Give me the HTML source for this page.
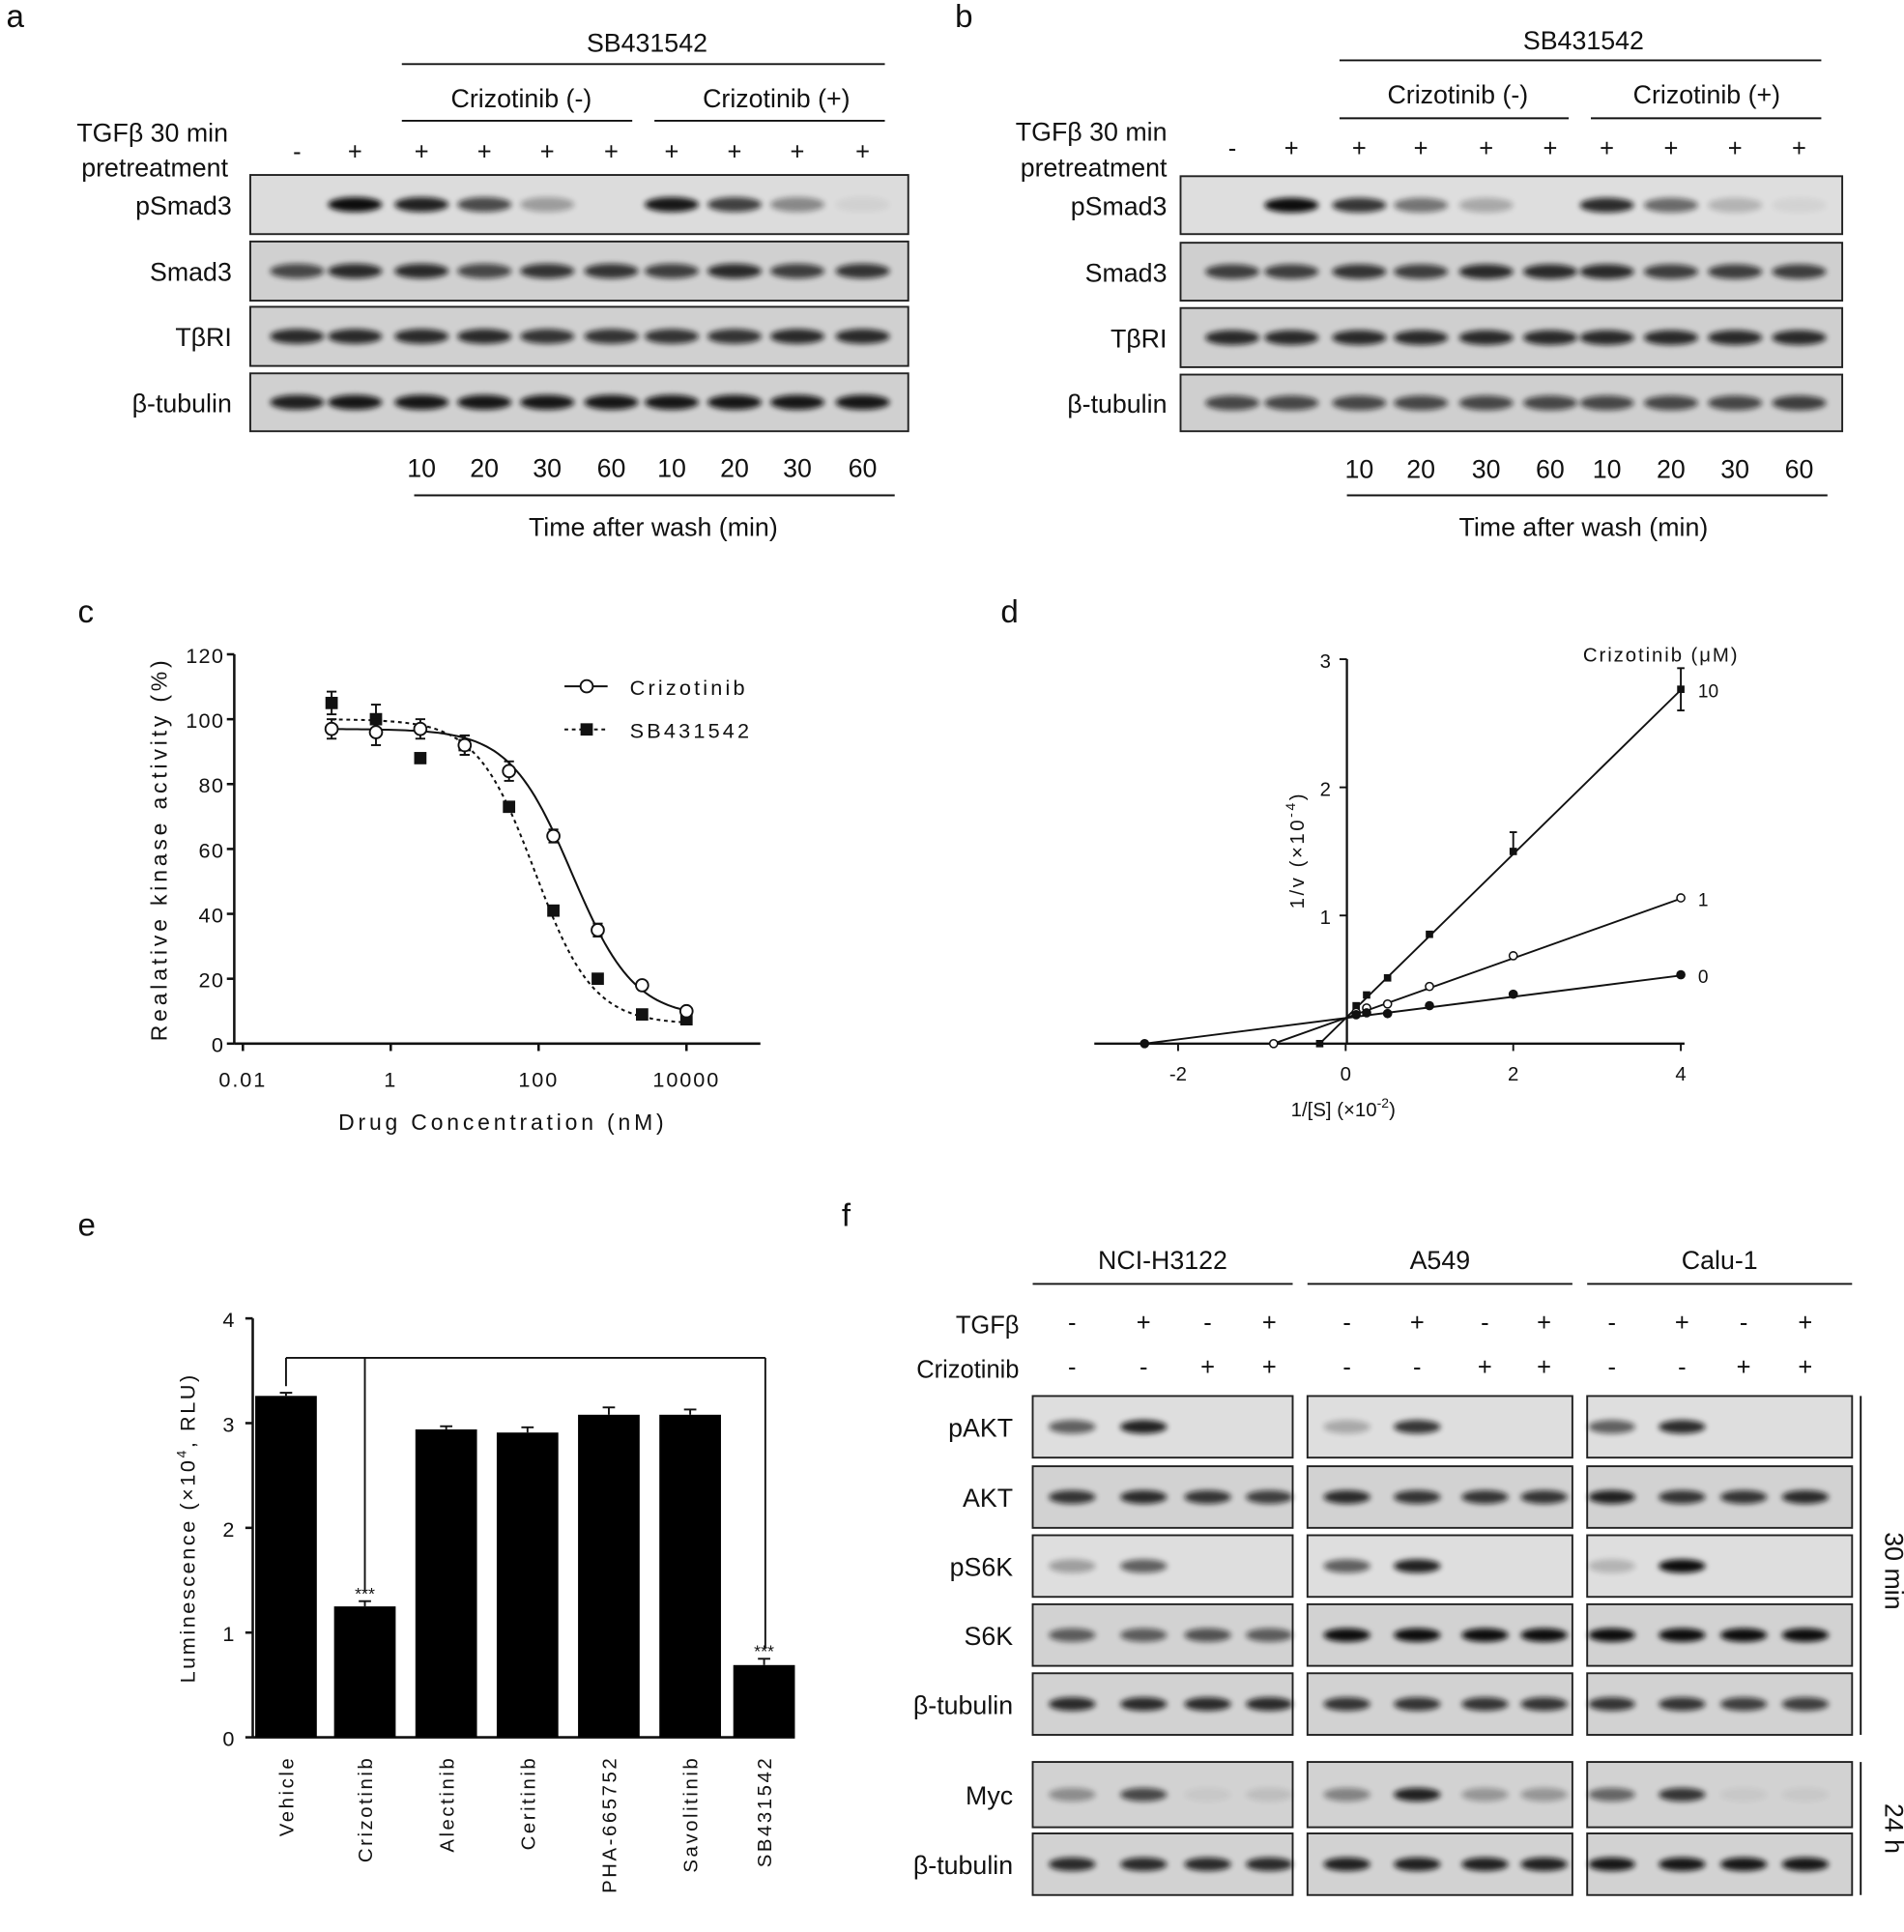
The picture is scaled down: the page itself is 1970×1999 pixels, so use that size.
<!DOCTYPE html>
<html><head><meta charset="utf-8"><style>
html,body{margin:0;padding:0;background:#fff}
svg{display:block}
text{font-family:"Liberation Sans",Arial,sans-serif;fill:#111}
</style></head><body>
<svg id="s" width="1970" height="1999" viewBox="0 0 1545 1568" xmlns="http://www.w3.org/2000/svg">
<defs>
<filter id="bl" x="-50%" y="-100%" width="200%" height="300%"><feGaussianBlur stdDeviation="2.2"/></filter>
</defs>
</svg>
<script>
const s=document.getElementById('s');let h='';
function T(x,y,t,sz,anc,extra){h+=`<text x="${x}" y="${y}" font-size="${sz}" text-anchor="${anc||'start'}" ${extra||''}>${t}</text>`;}
function L(x1,y1,x2,y2,w,extra){h+=`<line x1="${x1}" y1="${y1}" x2="${x2}" y2="${y2}" stroke="#111" stroke-width="${w||1.5}" ${extra||''}/>`;}
function box(x1,y1,x2,y2,bg){h+=`<rect x="${x1}" y="${y1}" width="${x2-x1}" height="${y2-y1}" fill="${bg||'#d6d6d6'}" stroke="#222" stroke-width="1.5"/>`;}
function bands(lanes,yc,ints,w,hh){lanes.forEach((x,i)=>{const a=ints[i];if(a>0.02)h+=`<ellipse cx="${x}" cy="${yc}" rx="${w||22}" ry="${(hh||6)}" fill="#111" opacity="${a}" filter="url(#bl)"/>`;});}
T(5,22,'a',26);T(775,22,'b',26);
// a
const la=[241,288,342,393,444,496,545,596,647,700];
T(525,42,'SB431542',21,'middle');L(326,52,718,52);
T(423,87,'Crizotinib (-)',21,'middle');L(326,98,513,98);
T(630,87,'Crizotinib (+)',21,'middle');L(531,98,718,98);
T(185,115,'TGFβ 30 min',21,'end');T(185,143,'pretreatment',21,'end');
la.forEach((x,i)=>T(x,130,i==0?'-':'+',20,'middle'));
const ra=[[142,190,'pSmad3',[0,1,.9,.7,.3,0,.95,.75,.4,.05]],[196,244,'Smad3',[.7,.85,.85,.7,.8,.8,.75,.85,.75,.8]],[249,297,'TβRI',[.85,.85,.85,.85,.8,.8,.8,.8,.85,.85]],[303,350,'β-tubulin',[.9,.95,.95,.95,.95,.95,.95,.95,.95,.95]]];
ra.forEach((r,k)=>{box(203,r[0],737,r[1],k==0?'#dcdcdc':'#d0d0d0');bands(la,(r[0]+r[1])/2,r[3]);T(188,(r[0]+r[1])/2+8,r[2],21,'end');});
[10,20,30,60,10,20,30,60].forEach((v,i)=>T(la[i+2],387,v,21,'middle'));
L(336,402,726,402);T(530,435,'Time after wash (min)',21,'middle');
// b
const lb=[1000,1048,1103,1153,1206,1258,1304,1356,1408,1460];
T(1285,40,'SB431542',21,'middle');L(1087,49,1478,49);
T(1183,84,'Crizotinib (-)',21,'middle');L(1087,96,1273,96);
T(1385,84,'Crizotinib (+)',21,'middle');L(1291,96,1478,96);
T(947,114,'TGFβ 30 min',21,'end');T(947,143,'pretreatment',21,'end');
lb.forEach((x,i)=>T(x,127,i==0?'-':'+',20,'middle'));
const rb=[[143,190,'pSmad3',[0,1,.8,.5,.25,0,.85,.55,.2,.05]],[197,244,'Smad3',[.75,.75,.8,.75,.85,.85,.85,.75,.75,.75]],[250,298,'TβRI',[.85,.85,.85,.85,.85,.85,.85,.85,.85,.85]],[304,350,'β-tubulin',[.7,.7,.7,.7,.7,.7,.7,.7,.7,.75]]];
rb.forEach((r,k)=>{box(958,r[0],1495,r[1],k==0?'#dedede':'#cfcfcf');bands(lb,(r[0]+r[1])/2,r[3]);T(947,(r[0]+r[1])/2+8,r[2],21,'end');});
[10,20,30,60,10,20,30,60].forEach((v,i)=>T(lb[i+2],388,v,21,'middle'));
L(1093,402,1483,402);T(1285,435,'Time after wash (min)',21,'middle');
// ---- panel c
T(63,505,'c',26);
const cy=v=>847-v*2.633, cx=l=>317+l*60;
L(190,531,190,847,2);L(190,847,617,847,2);
for(let v=0;v<=120;v+=20){L(184,cy(v),190,cy(v),2);T(182,cy(v)+7,v,17,'end','letter-spacing="1"');}
[[-2,'0.01'],[0,'1'],[2,'100'],[4,'10000']].forEach(a=>{L(cx(a[0]),847,cx(a[0]),853,2);T(cx(a[0]),882,a[1],17,'middle','letter-spacing="1.5"');});
T(408,917,'Drug Concentration (nM)',18,'middle','letter-spacing="3"');
T(0,0,'Realative kinase activity (%)',18,'middle','letter-spacing="3" transform="translate(135,689) rotate(-90)"');
const xs=[-0.4,-0.1,0.2,0.5,0.8,1.1,1.4,1.7,2.0].map(v=>v*2);
function curve(t,b,c,hh){let p='';for(let l=-0.8;l<=4.01;l+=0.05){const v=b+(t-b)/(1+Math.pow(10,hh*(l-c)));p+=(p?'L':'M')+cx(l).toFixed(1)+','+cy(v).toFixed(1);}return p;}
h+=`<path d="${curve(97,8,2.45,1.03)}" fill="none" stroke="#111" stroke-width="1.6"/>`;
h+=`<path d="${curve(100,6,1.95,1.1)}" fill="none" stroke="#111" stroke-width="1.6" stroke-dasharray="3,3"/>`;
const cv=[97,96,97,92,84,64,35,18,10],ce=[3,4,3,3,3,2,2,1,1];
const sv=[105,100,88,92,73,41,20,9,7.5],se=[3.5,4.5,0,3,0,0,0,0,0];
xs.forEach((l,i)=>{const x=cx(l);if(se[i]){L(x,cy(sv[i]-se[i]),x,cy(sv[i]+se[i]),1.5);L(x-4,cy(sv[i]+se[i]),x+4,cy(sv[i]+se[i]));L(x-4,cy(sv[i]-se[i]),x+4,cy(sv[i]-se[i]));}
 h+=`<rect x="${x-5}" y="${cy(sv[i])-5}" width="10" height="10" fill="#111"/>`;
 L(x,cy(cv[i]-ce[i]),x,cy(cv[i]+ce[i]),1.5);L(x-4,cy(cv[i]+ce[i]),x+4,cy(cv[i]+ce[i]));L(x-4,cy(cv[i]-ce[i]),x+4,cy(cv[i]-ce[i]));
 h+=`<circle cx="${x}" cy="${cy(cv[i])}" r="5" fill="#fff" stroke="#111" stroke-width="1.5"/>`;});
L(458,557,493,557,1.6);h+=`<circle cx="476" cy="557" r="5" fill="#fff" stroke="#111" stroke-width="1.5"/>`;T(511,564,'Crizotinib',17,'start','letter-spacing="2.5"');
L(458,592,493,592,1.6,'stroke-dasharray="3,3"');h+=`<rect x="471" y="587" width="10" height="10" fill="#111"/>`;T(511,599,'SB431542',17,'start','letter-spacing="2.5"');
// ---- panel d
T(812,505,'d',26);
const dx=v=>1092+v*68, dy=v=>847-v*104;
L(888,847,1367,847,1.8);L(1093,535,1093,847,1.8);
[1,2,3].forEach(v=>{L(1087,dy(v),1093,dy(v));T(1080,dy(v)+7,v,16,'end');});
[-2,0,2,4].forEach(v=>{L(dx(v),847,dx(v),853);T(dx(v),877,v==-2?'-2':v,16,'middle');});
T(1090,906,'1/[S] (×10<tspan dy="-7" font-size="11">-2</tspan><tspan dy="7">)</tspan>',16,'middle');
T(0,0,'1/v (×10<tspan dy="-7" font-size="11">-4</tspan><tspan dy="7">)</tspan>',16,'middle','letter-spacing="2" transform="translate(1058,690) rotate(-90)"');
T(1348,537,'Crizotinib (μM)',16,'middle','letter-spacing="1.5"');
const lines=[[0.64,-0.31,'10',2.77,'sq'],[0.233,-0.86,'1',1.13,'oc'],[0.083,-2.4,'0',0.53,'fc']];
const px=[0.125,0.25,0.5,1,2,4];
lines.forEach(ln=>{const m=ln[0],x0=ln[1];L(dx(x0),dy(0),dx(4),dy(0.2+m*4),1.5);
 const pts=[[x0,0]].concat(px.map(p=>[p,0.2+m*p+(Math.sin(p*7)*0.02)]));
 pts.forEach(p=>{const X=dx(p[0]),Y=dy(p[1]);if(ln[4]=='sq')h+=`<rect x="${X-3}" y="${Y-3}" width="6" height="6" fill="#111"/>`;else h+=`<circle cx="${X}" cy="${Y}" r="3.2" fill="${ln[4]=='oc'?'#fff':'#111'}" stroke="#111" stroke-width="1.2"/>`;});
 T(1378,dy(0.2+m*4)+6,ln[2],15,'start');});
L(dx(4),dy(2.6),dx(4),dy(2.93));L(dx(4)-3,dy(2.6),dx(4)+3,dy(2.6));L(dx(4)-3,dy(2.93),dx(4)+3,dy(2.93));
L(dx(2),dy(1.5),dx(2),dy(1.65));L(dx(2)-3,dy(1.65),dx(2)+3,dy(1.65));
// ---- panel e
T(63,1003,'e',26);
const ey=v=>1410-v*85;
L(205,1070,205,1410,2);L(205,1410,645,1410,2);
for(let v=0;v<=4;v++){L(199,ey(v),205,ey(v),2);T(190,ey(v)+7,v,17,'end');}
T(0,0,'Luminescence (×10<tspan dy="-7" font-size="11">4</tspan><tspan dy="7">, RLU)</tspan>',17,'middle','letter-spacing="2" transform="translate(158,1240) rotate(-90)"');
const bc=[232,296,362,428,494,560,620],bv=[3.26,1.25,2.94,2.91,3.08,3.08,0.69],be=[.03,.05,.03,.05,.07,.05,.06];
const bn=['Vehicle','Crizotinib','Alectinib','Ceritinib','PHA-665752','Savolitinib','SB431542'];
bc.forEach((x,i)=>{h+=`<rect x="${x-25}" y="${ey(bv[i])}" width="50" height="${bv[i]*85}" fill="#000"/>`;L(x,ey(bv[i]),x,ey(bv[i]+be[i]));L(x-5,ey(bv[i]+be[i]),x+5,ey(bv[i]+be[i]));
 T(0,0,bn[i],16,'end',`letter-spacing="2" transform="translate(${x+6},1425) rotate(-90)"`);});
L(232,1102,621,1102);L(232,1102,232,1125);L(296,1102,296,1292);L(621,1102,621,1338);
T(296,1298,'***',14,'middle');T(620,1345,'***',14,'middle');
// ---- panel f
T(683,995,'f',26);
const gx=[[838,1049,'NCI-H3122',[870,928,980,1030]],[1061,1276,'A549',[1093,1150,1205,1253]],[1288,1503,'Calu-1',[1308,1365,1415,1465]]];
const fr=[[1133,1183,'pAKT'],[1190,1240,'AKT'],[1246,1296,'pS6K'],[1302,1352,'S6K'],[1358,1408,'β-tubulin'],[1430,1483,'Myc'],[1488,1538,'β-tubulin']];
const fi=[[[.6,.9,0,0],[.8,.85,.8,.75],[.3,.6,0,0],[.6,.6,.65,.6],[.85,.85,.85,.85],[.35,.7,.05,.1],[.85,.85,.85,.85]],
[[.25,.8,0,0],[.85,.8,.8,.8],[.6,.9,0,0],[1,1,1,1],[.8,.8,.8,.8],[.4,.9,.3,.3],[.9,.9,.9,.9]],
[[.6,.85,0,0],[.9,.8,.8,.85],[.2,1,0,0],[1,1,1,1],[.8,.8,.75,.75],[.55,.8,.05,.05],[.95,.95,.95,.95]]];
T(827,1082,'TGFβ',20,'end');T(827,1118,'Crizotinib',20,'end');
gx.forEach((g,gi)=>{T((g[0]+g[1])/2,1030,g[2],21,'middle');L(g[0],1042,g[1],1042);
 g[3].forEach((x,i)=>{T(x,1080,(i%2)?'+':'-',20,'middle');T(x,1116,i>=2?'+':'-',20,'middle');});
 fr.forEach((r,k)=>{box(g[0],r[0],g[1],r[1],k%2==0&&k<5&&k!=4?'#dedede':'#d2d2d2');bands(g[3],(r[0]+r[1])/2,fi[gi][k],19,5.5);});});
fr.forEach(r=>T(822,(r[0]+r[1])/2+8,r[2],21,'end'));
L(1510,1133,1510,1408);L(1510,1430,1510,1538);
T(0,0,'30 min',21,'middle','transform="translate(1530,1275) rotate(90)"');
T(0,0,'24 h',21,'middle','transform="translate(1530,1484) rotate(90)"');
s.insertAdjacentHTML('beforeend',h);
</script>
</body></html>
